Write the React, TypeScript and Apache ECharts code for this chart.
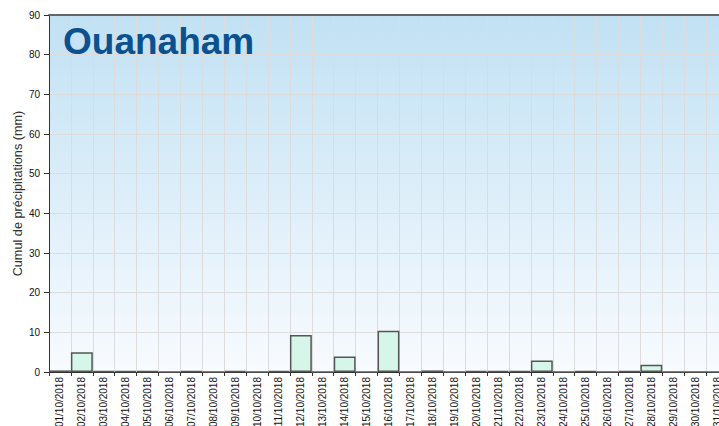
import React, { useEffect, useRef } from "react";
import * as echarts from "echarts";

const categories = [
  "01/10/2018", "02/10/2018", "03/10/2018", "04/10/2018", "05/10/2018", "06/10/2018",
  "07/10/2018", "08/10/2018", "09/10/2018", "10/10/2018", "11/10/2018", "12/10/2018",
  "13/10/2018", "14/10/2018", "15/10/2018", "16/10/2018", "17/10/2018", "18/10/2018",
  "19/10/2018", "20/10/2018", "21/10/2018", "22/10/2018", "23/10/2018", "24/10/2018",
  "25/10/2018", "26/10/2018", "27/10/2018", "28/10/2018", "29/10/2018", "30/10/2018",
  "31/10/2018",
];
const rainfall = [
  0.4, 5.0, 0.2, 0.2, 0.2, 0, 0.2, 0, 0.2, 0, 0.2, 9.3, 0, 3.9, 0, 10.4, 0, 0.4, 0,
  0.2, 0.2, 0.2, 2.9, 0, 0.2, 0, 0.2, 1.8, 0, 0, 0,
];
const title = "Ouanaham";
const yAxisName = "Cumul de précipitations (mm)";

export default function App() {
  const ref = useRef<HTMLDivElement>(null);
  useEffect(() => {
    document.body.style.margin = "0";
    const chart = echarts.init(ref.current!, null, { renderer: "svg" });
    chart.setOption({
      animation: false,
      grid: {
        left: 49,
        top: 15,
        width: 679,
        bottom: 54,
        containLabel: false,
        outerBoundsMode: "none",
        show: true,
        borderWidth: 0,
        backgroundColor: new echarts.graphic.LinearGradient(0, 0, 0, 1, [
          { offset: 0, color: "#c1e1f3" },
          { offset: 1, color: "#f8fbff" },
        ]),
      },
      graphic: [
        {
          type: "text",
          left: 63,
          top: 23,
          z: 10,
          style: {
            text: title,
            fontFamily: "Liberation Sans",
            fontWeight: "bold",
            fontSize: 37,
            fill: "#0b5190",
          },
        },
      ],
      xAxis: [
        {
          type: "category",
          data: categories,
          boundaryGap: true,
          axisLine: { show: true, lineStyle: { color: "#333", width: 1 } },
          axisTick: { show: true, length: 4, lineStyle: { color: "#333" } },
          splitLine: { show: true, lineStyle: { color: "#dcdcdc", width: 1 } },
          axisLabel: {
            rotate: 90,
            fontSize: 10,
            color: "#111",
            margin: 5,
            interval: 0,
            fontFamily: "Liberation Sans",
          },
        },
        {
          type: "category",
          data: categories,
          position: "top",
          axisLine: { show: true, lineStyle: { color: "#666", width: 2 } },
          axisTick: { show: false },
          axisLabel: { show: false },
          splitLine: { show: false },
        },
      ],
      yAxis: {
        type: "value",
        min: 0,
        max: 90,
        interval: 10,
        name: yAxisName,
        nameLocation: "middle",
        nameGap: 25,
        nameMoveOverlap: false,
        nameTextStyle: {
          fontSize: 12.7,
          color: "#333",
          fontFamily: "Liberation Sans",
        },
        axisLine: { show: true, lineStyle: { color: "#333", width: 1 } },
        axisTick: { show: true, length: 5, lineStyle: { color: "#333" } },
        splitLine: { show: true, lineStyle: { color: "#dcdcdc", width: 1 } },
        axisLabel: {
          fontSize: 10,
          color: "#111",
          margin: 9,
          fontFamily: "Liberation Sans",
        },
      },
      series: [
        {
          type: "bar",
          data: rainfall,
          barCategoryGap: "0%",
          barWidth: "100%",
          itemStyle: {
            color: "#d5f6e9",
            borderColor: "#555",
            borderWidth: 1.5,
          },
        },
      ],
    });
    return () => chart.dispose();
  }, []);
  return (
    <div style={{ width: 719, height: 426, overflow: "hidden", position: "relative" }}>
      <div ref={ref} style={{ width: 760, height: 426 }} />
    </div>
  );
}
